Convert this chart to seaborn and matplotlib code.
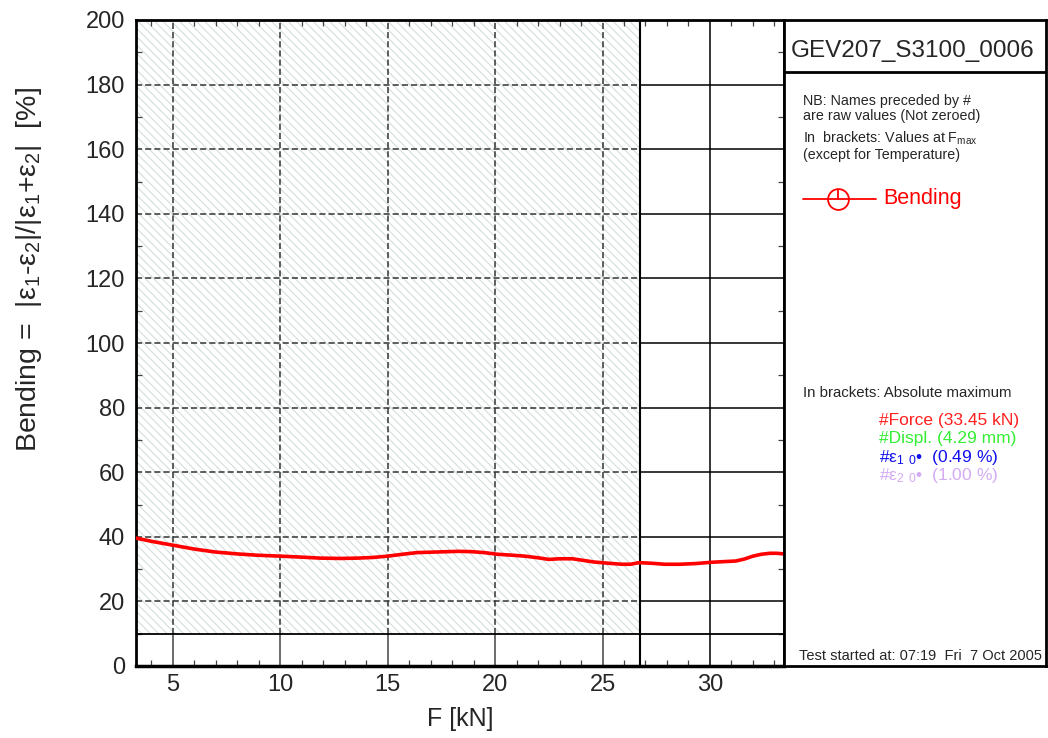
import matplotlib
matplotlib.use("Agg")
import matplotlib.pyplot as plt
import seaborn as sns
import pandas as pd
import numpy as np
from matplotlib.patches import Rectangle
from matplotlib.lines import Line2D

# ---- data ----
force_kN = [3.28, 4.0, 5.0, 6.0, 6.96, 8.0, 8.91, 10.03, 11.0, 11.85, 12.8, 13.6, 14.3, 14.98,
            15.7, 16.35, 17.3, 18.3, 18.9, 19.5, 20.1, 20.8, 21.4, 22.0, 22.5, 23.0, 23.6,
            24.1, 24.6, 25.3, 25.9, 26.3, 26.7, 27.3, 27.9, 28.6, 29.3, 30.05, 30.6, 31.2,
            31.6, 32.0, 32.4, 32.8, 33.1, 33.45]
bending_pct = [39.6, 38.6, 37.4, 36.2, 35.3, 34.7, 34.3, 34.0, 33.7, 33.4, 33.3, 33.4, 33.6, 34.0,
               34.6, 35.1, 35.3, 35.5, 35.4, 35.1, 34.6, 34.3, 34.0, 33.5, 33.0, 33.2, 33.2,
               32.7, 32.2, 31.8, 31.5, 31.5, 32.0, 31.8, 31.5, 31.5, 31.7, 32.1, 32.3, 32.5,
               33.1, 34.0, 34.6, 34.9, 34.9, 34.7]

x_ticks = [5, 10, 15, 20, 25, 30]
y_ticks = [0, 20, 40, 60, 80, 100, 120, 140, 160, 180, 200]
x_lim = (3.28, 33.45)
y_lim = (0, 200)
hatch_x_end = 26.74
hatch_y_start = 10

title_id = "GEV207_S3100_0006"
info_lines = ["NB: Names preceded by #", "are raw values (Not zeroed)",
              "In  brackets: Values at F$_{\\mathregular{max}}$", "(except for Temperature)"]
legend_label = "Bending"
abs_header = "In brackets: Absolute maximum"
abs_items = ["#Force (33.45 kN)", "#Displ. (4.29 mm)",
             "#ε$_{\\mathregular{1}}$ $_{\\mathregular{0}}$•  (0.49 %)",
             "#ε$_{\\mathregular{2}}$ $_{\\mathregular{0}}$•  (1.00 %)"]
abs_colors = ["#ff2020", "#33ee33", "#1010ee", "#d4aaf2"]
footer = "Test started at: 07:19  Fri  7 Oct 2005"

sns.set_style("white")
plt.rcParams['font.family'] = ['Liberation Sans', 'DejaVu Sans']
plt.rcParams['mathtext.fontset'] = 'custom'
plt.rcParams['mathtext.rm'] = 'Liberation Sans'
plt.rcParams['mathtext.it'] = 'Liberation Sans'
plt.rcParams['mathtext.default'] = 'regular'
plt.rcParams['hatch.linewidth'] = 0.8

W, H = 1048, 738
fig = plt.figure(figsize=(W / 100, H / 100), dpi=100)
L, R, T, B = 136, 784, 20, 666
ax = fig.add_axes([L / W, 1 - B / H, (R - L) / W, (B - T) / H])
ax.set_xlim(*x_lim)
ax.set_ylim(*y_lim)

# hatched zone
ax.add_patch(Rectangle((x_lim[0], hatch_y_start), hatch_x_end - x_lim[0], y_lim[1] - hatch_y_start,
                       facecolor="white", edgecolor="#d4dcdc", hatch="\\\\\\\\", linewidth=0, zorder=0))
ax.axhline(hatch_y_start, color="black", lw=1.3, zorder=2)
ax.axvline(hatch_x_end, color="black", lw=1.5, zorder=2)

fx = (hatch_x_end - x_lim[0]) / (x_lim[1] - x_lim[0])
fy = (hatch_y_start - y_lim[0]) / (y_lim[1] - y_lim[0])
for yv in y_ticks[1:-1]:
    ax.axhline(yv, xmin=0, xmax=fx, color="#333333", lw=1.1, ls=(0, (4, 2)), zorder=1)
    ax.axhline(yv, xmin=fx, xmax=1, color="black", lw=1.1, zorder=1)
for xv in x_ticks:
    if xv < hatch_x_end:
        ax.axvline(xv, ymin=fy, ymax=1, color="#333333", lw=1.1, ls=(0, (4, 2)), zorder=1)
        ax.axvline(xv, ymin=0, ymax=fy, color="#444444", lw=1.1, zorder=1)
    else:
        ax.axvline(xv, color="black", lw=1.1, zorder=1)

df = pd.DataFrame({"F": force_kN, "Bending": bending_pct})
sns.lineplot(data=df, x="F", y="Bending", color="red", lw=2.6, ax=ax, zorder=5, legend=False)

ax.set_xticks(x_ticks)
ax.set_yticks(y_ticks)
ax.set_xticks(np.arange(4, 34, 1), minor=True)
ax.set_yticks(np.arange(10, 200, 10), minor=True)
ax.tick_params(axis="both", which="major", direction="in", length=0, labelsize=17, pad=8)
ax.tick_params(axis="both", which="minor", direction="in", length=4, width=0.9, color="#444444",
               top=True, right=True, bottom=True, left=True)
ax.tick_params(axis="x", which="major", pad=6)
ax.set_xlabel("F [kN]", fontsize=18, labelpad=8)
ax.set_ylabel("Bending =  |ε$_{\\mathregular{1}}$-ε$_{\\mathregular{2}}$|/|ε$_{\\mathregular{1}}$+ε$_{\\mathregular{2}}$|  [%]",
              fontsize=20.5)
ax.yaxis.set_label_coords(-0.142, 0.614)
for s in ax.spines.values():
    s.set_visible(True)
    s.set_color("black")
    s.set_linewidth(2)
ax.spines["bottom"].set_linewidth(2.5)

# right info panel
pax = fig.add_axes([R / W, 1 - B / H, (1046 - R) / W, (B - T) / H])
pax.set_xlim(R, 1046)
pax.set_ylim(B, T)
pax.set_xticks([])
pax.set_yticks([])
for s in pax.spines.values():
    s.set_color("black")
    s.set_linewidth(2)
pax.axhline(72, color="black", lw=2)
pax.text(791, 51, title_id, fontsize=17.5, va="center", ha="left")
for txt, yy in zip(info_lines, [101, 116, 138, 155]):
    pax.text(803, yy, txt, fontsize=10.3, va="center", ha="left")
pax.add_line(Line2D([803, 876], [199, 199], color="red", lw=1.3))
pax.plot([838], [199], marker="o", ms=15, mfc="none", mec="red", mew=1.3)
pax.add_line(Line2D([838, 838], [190, 199], color="red", lw=1.3))
pax.text(883, 199, legend_label, fontsize=15.5, color="red", va="center", ha="left")
pax.text(803, 393, abs_header, fontsize=10.8, va="center", ha="left")
for txt, col, yy in zip(abs_items, abs_colors, [421, 439, 458, 476]):
    pax.text(879, yy, txt, fontsize=12.5, color=col, va="center", ha="left")
pax.text(799, 656, footer, fontsize=10.5, va="center", ha="left")

fig.savefig("out.png", dpi=100)
